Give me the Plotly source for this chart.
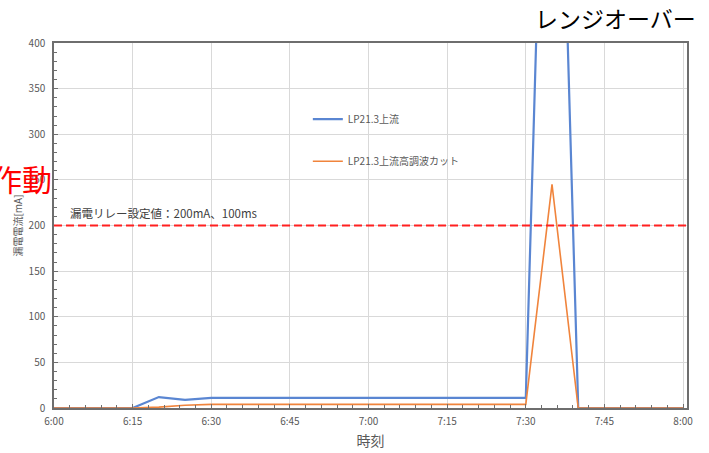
import pandas as pd
import plotly.graph_objects as go

# ---- data ----
times = pd.date_range("2021-01-01 06:00", "2021-01-01 08:00", freq="5min")
time_labels = [t.strftime("%Y-%m-%d %H:%M") for t in times]

lp_upstream = [0, 0, 0, 0, 12, 9, 11, 11, 11, 11, 11, 11, 11, 11, 11, 11,
               11, 11, 11, 1000, 0, 0, 0, 0, 0]
lp_upstream_hcut = [0, 0, 0, 0, 1, 3, 4, 4, 4, 4, 4, 4, 4, 4, 4, 4,
                    4, 4, 4, 245, 0, 0, 0, 0, 0]

series_names = ["LP21.3上流", "LP21.3上流高調波カット"]
relay_setting = 200
relay_label = "漏電リレー設定値：200mA、100ms"
y_title = "漏電電流[mA]"
x_title = "時刻"
note_over = "レンジオーバー"
note_trip = "作動"

x_range = ["2021-01-01 06:00", "2021-01-01 08:00:45"]
y_range = [0, 400]

FONT = "Noto Sans CJK JP, Liberation Sans, sans-serif"
GRAY = "#595959"
AXIS = "#6E6E6E"

fig = go.Figure()
fig.add_trace(go.Scatter(x=time_labels, y=lp_upstream, mode="lines",
                         name=series_names[0], legendgroup="a",
                         line=dict(color="#5A86D2", width=2.2)))
fig.add_trace(go.Scatter(x=time_labels, y=lp_upstream_hcut, mode="lines",
                         name=series_names[1], legendgroup="b",
                         line=dict(color="#F0843C", width=1.6)))

fig.add_hline(y=relay_setting, line=dict(color="#FF2020", width=2, dash="8px,4px"))

fig.update_layout(
    width=709, height=453,
    margin=dict(l=54, r=22, t=43, b=45),
    paper_bgcolor="white", plot_bgcolor="white",
    font=dict(family=FONT, color=GRAY, size=10),
    legend=dict(x=0.401, y=0.831, xanchor="left", yanchor="top",
                bgcolor="rgba(0,0,0,0)", font=dict(size=10, color=GRAY),
                tracegroupgap=23, traceorder="grouped"),
    xaxis=dict(
        type="date", range=x_range,
        tick0="2021-01-01 06:00", dtick=15 * 60 * 1000, tickformat="%-H:%M",
        showgrid=True, gridcolor="#D9D9D9", gridwidth=1,
        showline=True, linecolor=AXIS, linewidth=1.5, mirror=True,
        ticks="inside", ticklen=4, tickcolor=AXIS,
        minor=dict(dtick=3 * 60 * 1000, ticks="inside", ticklen=3,
                   tickcolor=AXIS, showgrid=False),
        tickfont=dict(size=10, color=GRAY), ticklabelstandoff=3,
        title=dict(text=x_title, font=dict(size=14, color=GRAY), standoff=9),
        zeroline=False, automargin=False,
    ),
    yaxis=dict(
        range=y_range, dtick=50,
        showgrid=True, gridcolor="#D9D9D9", gridwidth=1,
        showline=True, linecolor=AXIS, linewidth=1.5, mirror=True,
        ticks="inside", ticklen=4, tickcolor=AXIS,
        minor=dict(dtick=10, ticks="inside", ticklen=3,
                   tickcolor=AXIS, showgrid=False),
        tickfont=dict(size=10, color=GRAY), ticklabelstandoff=5,
        title=dict(text=y_title, font=dict(size=10, color=GRAY), standoff=4),
        zeroline=False, automargin=False,
    ),
    annotations=[
        dict(text=relay_label, xref="paper", yref="paper", x=0.022, y=0.535,
             xanchor="left", yanchor="middle", showarrow=False,
             font=dict(size=11.5, color="#404040")),
        dict(text=note_over, xref="paper", yref="paper", x=1.018, y=1.068,
             xanchor="right", yanchor="middle", showarrow=False,
             font=dict(size=23, color="black")),
        dict(text=note_trip, xref="paper", yref="paper", x=0.0, y=0.63,
             xanchor="right", yanchor="middle", showarrow=False,
             font=dict(size=30, color="#FF0000")),
    ],
)

fig.write_html("out.html", config={"displayModeBar": False},
               post_script="document.body.style.margin='0';")
